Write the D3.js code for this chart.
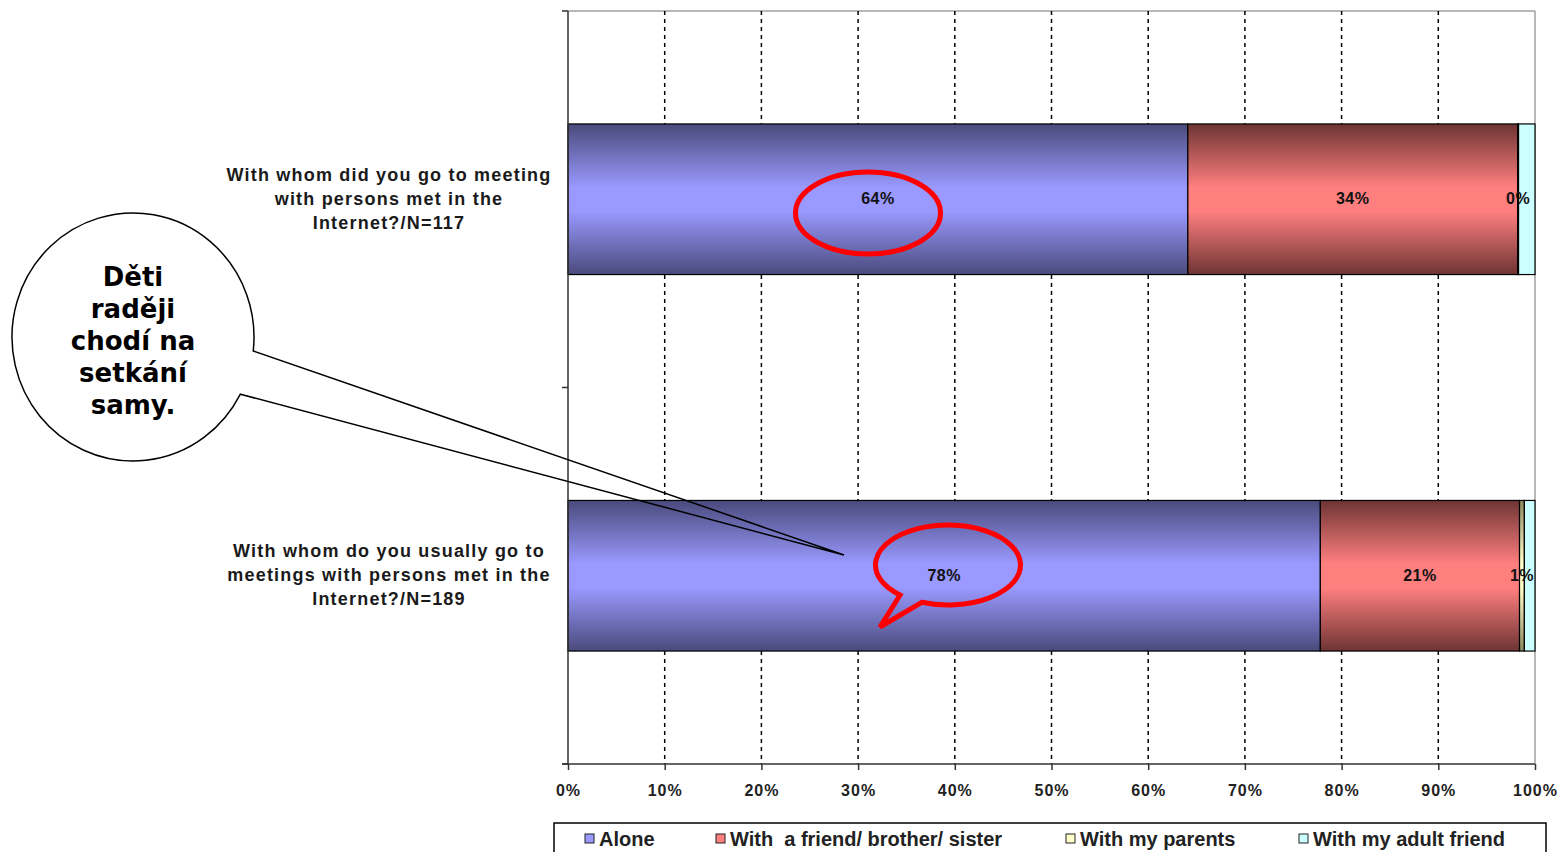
<!DOCTYPE html>
<html><head><meta charset="utf-8">
<script src="https://cdn.jsdelivr.net/npm/d3@7"></script>
<style>
html,body{margin:0;padding:0;background:#fff;}
svg{display:block;}
</style></head>
<body>
<svg id="chart" width="1560" height="852"></svg>
<script>
// ---- data ----
const categories = [
  ["With whom did you go to meeting", "with persons met in the", "Internet?/N=117"],
  ["With whom do you usually go to", "meetings with persons met in the", "Internet?/N=189"]
];
const seriesNames = ["Alone", "With  a friend/ brother/ sister", "With my parents", "With my adult friend"];
const alone = [64.1, 77.8];
const friend = [34.1, 20.6];
const parents = [0.1, 0.5];
const adultFriend = [1.7, 1.1];
const tickValues = [0, 10, 20, 30, 40, 50, 60, 70, 80, 90, 100];
const calloutLines = ["Děti", "raději", "chodí na", "setkání", "samy."];

const seriesValues = [alone, friend, parents, adultFriend];
const colors = ["#9999ff", "#ff7f7f", "#ffffcc", "#ccffff"];
const darkColors = ["#4a4a7c", "#6e3434", "#8a8a60", "#ccffff"];

const svg = d3.select("#chart");
const L = 568, R = 1535, T = 11, B = 764;

const x = d3.scaleLinear().domain([0, 100]).range([L, R]);
const y = d3.scaleBand().domain(d3.range(categories.length)).range([T, B]).paddingInner(0.6).paddingOuter(0.3);

// gradients
const defs = svg.append("defs");
colors.forEach((c, i) => {
  const g = defs.append("linearGradient").attr("id", "g" + i).attr("x1", 0).attr("y1", 0).attr("x2", 0).attr("y2", 1);
  if (i < 3) {
    g.append("stop").attr("offset", "0%").attr("stop-color", darkColors[i]);
    g.append("stop").attr("offset", "42%").attr("stop-color", c);
    g.append("stop").attr("offset", "58%").attr("stop-color", c);
    g.append("stop").attr("offset", "100%").attr("stop-color", darkColors[i]);
  } else {
    g.append("stop").attr("offset", "0%").attr("stop-color", c);
    g.append("stop").attr("offset", "100%").attr("stop-color", c);
  }
});

// plot frame (top and right, gray)
svg.append("line").attr("x1", L).attr("x2", R).attr("y1", T).attr("y2", T).attr("stroke", "#a0a0a0").attr("stroke-width", 1.5);
svg.append("line").attr("x1", R).attr("x2", R).attr("y1", T).attr("y2", B).attr("stroke", "#a0a0a0").attr("stroke-width", 1.5);

// gridlines
svg.append("g").selectAll("line").data(tickValues.slice(1, -1)).join("line")
  .attr("x1", d => x(d)).attr("x2", d => x(d)).attr("y1", T).attr("y2", B)
  .attr("stroke", "#000").attr("stroke-width", 1.5).attr("stroke-dasharray", "4,4");

// stacked bars
const stackData = categories.map((c, i) => {
  let acc = 0;
  return seriesValues.map((s, k) => { const o = { k, i, x0: acc, x1: acc + s[i], v: s[i] }; acc += s[i]; return o; });
});
const barG = svg.append("g");
stackData.forEach(row => {
  barG.selectAll(null).data(row).join("rect")
    .attr("x", d => x(d.x0)).attr("width", d => x(d.x1) - x(d.x0))
    .attr("y", d => y(d.i)).attr("height", y.bandwidth())
    .attr("fill", d => `url(#g${d.k})`)
    .attr("stroke", "#000").attr("stroke-width", 1.2);
});

// data labels (first three series)
stackData.forEach(row => {
  barG.selectAll(null).data(row.slice(0, 3)).join("text")
    .attr("x", d => (x(d.x0) + x(d.x1)) / 2)
    .attr("y", d => y(d.i) + y.bandwidth() / 2 + 1)
    .attr("text-anchor", "middle").attr("dominant-baseline", "middle")
    .attr("font-family", "Liberation Sans, Arial, sans-serif").attr("font-weight", "bold")
    .attr("font-size", 16).attr("letter-spacing", 0.5).attr("fill", "#111")
    .text(d => Math.round(d.v) + "%");
});

// bottom axis
const xAxis = d3.axisBottom(x).tickValues(tickValues).tickSize(6).tickFormat(d => d + "%");
const gx = svg.append("g").attr("transform", `translate(0,${B})`).call(xAxis);
gx.select(".domain").attr("stroke", "#333").attr("stroke-width", 1.5).attr("d", `M${L - 6},0H${R}`);
gx.selectAll(".tick line").attr("stroke", "#333").attr("stroke-width", 1.5);
gx.selectAll(".tick text").attr("y", 26).attr("dy", "0.35em")
  .attr("font-family", "Liberation Sans, Arial, sans-serif").attr("font-weight", "bold")
  .attr("font-size", 16).attr("letter-spacing", 1).attr("fill", "#222");

// left axis
svg.append("line").attr("x1", L).attr("x2", L).attr("y1", T).attr("y2", B).attr("stroke", "#333").attr("stroke-width", 1.5);
const catTicks = [T, T + (B - T) / 2, B];
svg.append("g").selectAll("line").data(catTicks).join("line")
  .attr("x1", L - 6).attr("x2", L).attr("y1", d => d).attr("y2", d => d).attr("stroke", "#333").attr("stroke-width", 1.5);

// category labels
categories.forEach((lines, i) => {
  const cy = y(i) + y.bandwidth() / 2;
  const t = svg.append("text").attr("text-anchor", "middle")
    .attr("font-family", "Liberation Sans, Arial, sans-serif").attr("font-weight", "bold")
    .attr("font-size", 18).attr("letter-spacing", 1.2).attr("fill", "#1a1a1a");
  lines.forEach((ln, j) => {
    t.append("tspan").attr("x", 389).attr("y", cy - 24 + j * 24 - 1).attr("dy", "0.35em").text(ln);
  });
});

// legend
const lg = svg.append("g");
lg.append("rect").attr("x", 554).attr("y", 823).attr("width", 992).attr("height", 50)
  .attr("fill", "#fff").attr("stroke", "#000").attr("stroke-width", 1.5);
const legX = [585, 716, 1066, 1299];
seriesNames.forEach((n, k) => {
  lg.append("rect").attr("x", legX[k]).attr("y", 834).attr("width", 9).attr("height", 9)
    .attr("fill", colors[k]).attr("stroke", "#222").attr("stroke-width", 1);
  lg.append("text").attr("x", legX[k] + 14).attr("y", 839).attr("dy", "0.35em")
    .attr("font-family", "Liberation Sans Narrow, Arial Narrow, Liberation Sans, sans-serif").attr("font-weight", "bold")
    .attr("font-size", 20).attr("fill", "#222").style("white-space", "pre").text(n);
});

// red ellipse around 64%
svg.append("ellipse").attr("cx", 868).attr("cy", 213).attr("rx", 72.5).attr("ry", 41)
  .attr("fill", "none").attr("stroke", "#ff0000").attr("stroke-width", 5);

// red speech bubble around 78%
(function () {
  const cx = 948, cy = 565, rx = 72.5, ry = 40;
  const a1 = Math.atan2((595 - cy) / ry, (900 - cx) / rx);
  const a2 = Math.atan2((602 - cy) / ry, (922 - cx) / rx);
  const p1 = [cx + rx * Math.cos(a1), cy + ry * Math.sin(a1)];
  const p2 = [cx + rx * Math.cos(a2), cy + ry * Math.sin(a2)];
  const d = `M${p2[0]},${p2[1]} A${rx},${ry} 0 1 0 ${p1[0]},${p1[1]} L880,627 Z`;
  svg.append("path").attr("d", d).attr("fill", "none").attr("stroke", "#ff0000").attr("stroke-width", 5).attr("stroke-linejoin", "miter");
})();

// callout circle with pointer
(function () {
  const cx = 133, cy = 337, rx = 121, ry = 124;
  const pA = [254, 351], pB = [240, 394], tip = [844, 555];
  const aA = Math.atan2((pA[1] - cy) / ry, (pA[0] - cx) / rx);
  const aB = Math.atan2((pB[1] - cy) / ry, (pB[0] - cx) / rx);
  const A = [cx + rx * Math.cos(aA), cy + ry * Math.sin(aA)];
  const Bp = [cx + rx * Math.cos(aB), cy + ry * Math.sin(aB)];
  const d = `M${Bp[0]},${Bp[1]} A${rx},${ry} 0 1 1 ${A[0]},${A[1]} L${tip[0]},${tip[1]} Z`;
  svg.append("path").attr("d", d).attr("fill", "none").attr("stroke", "#000").attr("stroke-width", 1.5);
  const t = svg.append("text").attr("text-anchor", "middle")
    .attr("font-family", "DejaVu Sans, Verdana, sans-serif").attr("font-weight", "bold")
    .attr("font-size", 26).attr("fill", "#000");
  calloutLines.forEach((ln, j) => {
    t.append("tspan").attr("x", 133).attr("y", 277 + j * 32).attr("dy", "0.35em").text(ln);
  });
})();
</script>
</body></html>
